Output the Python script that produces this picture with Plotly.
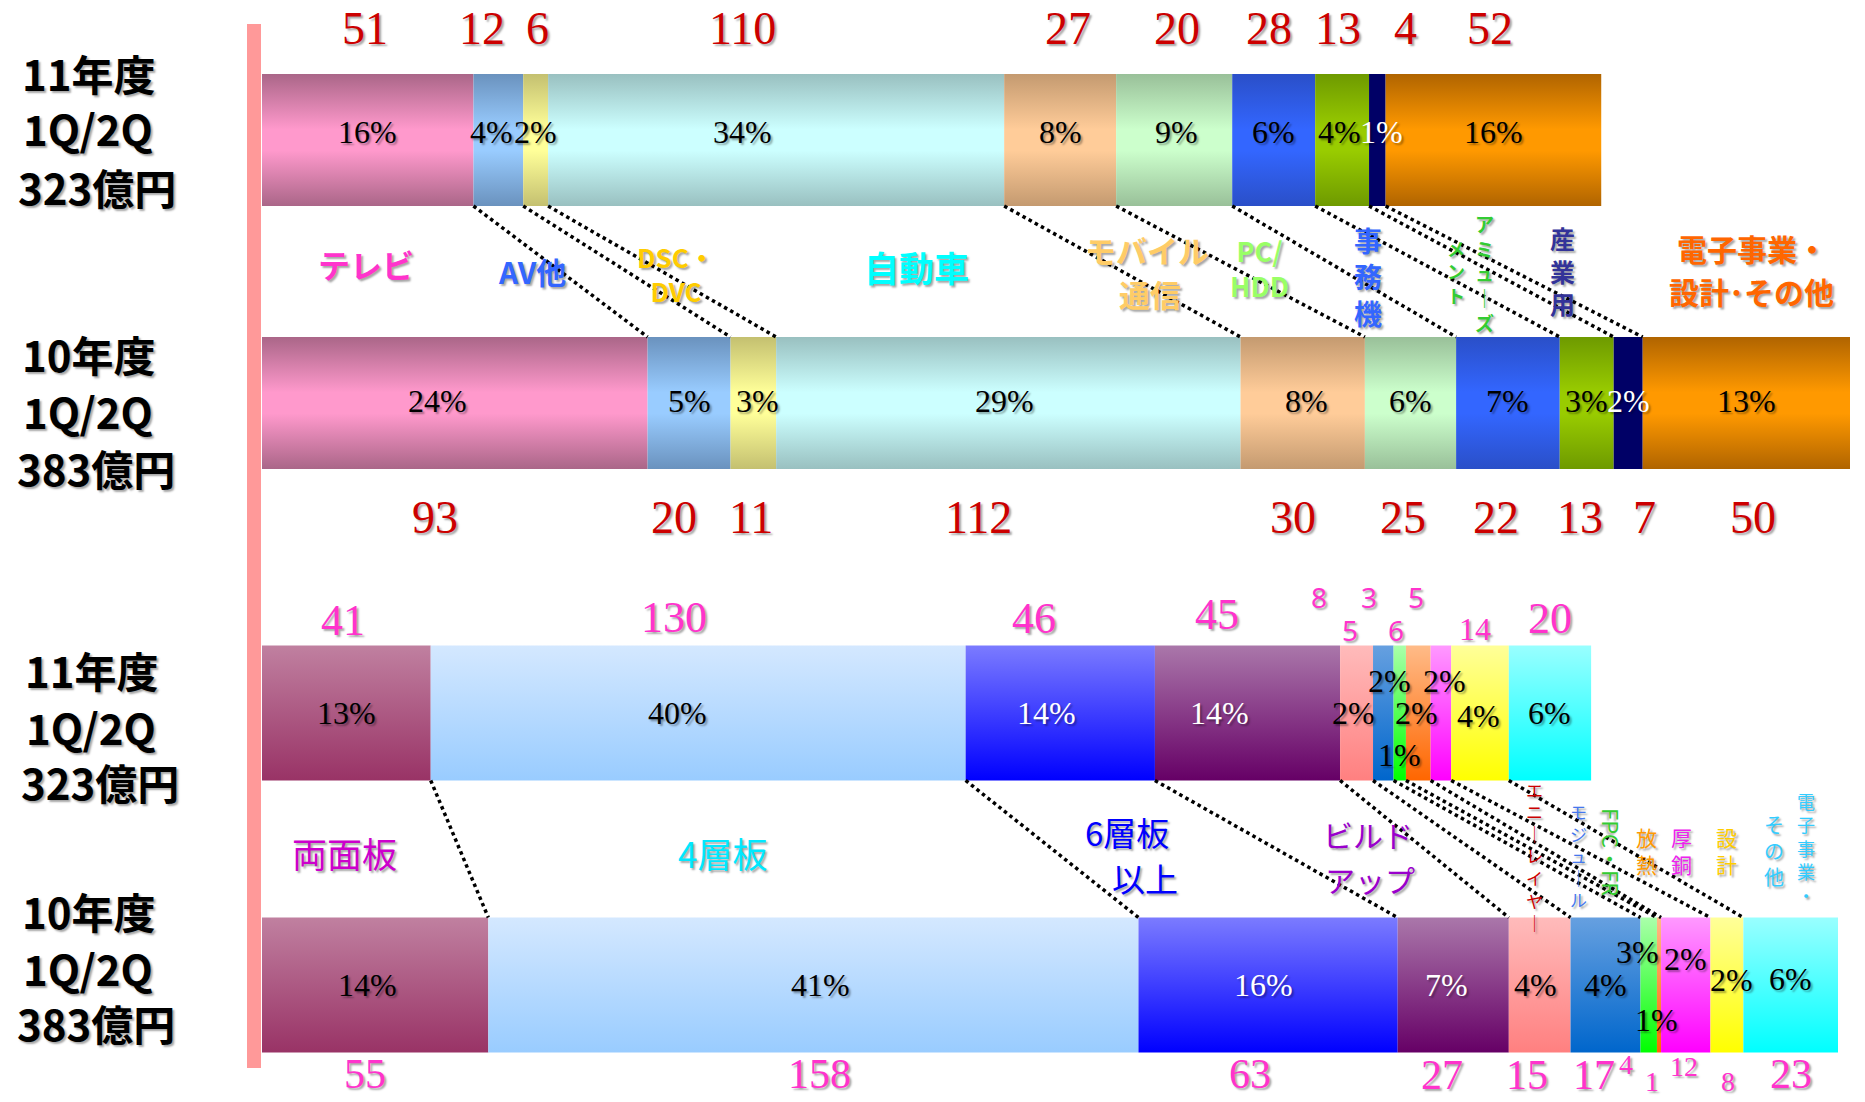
import plotly.graph_objects as go

W, H = 1865, 1102

# ---------------- data ----------------
top_categories = ["テレビ", "AV他", "DSC・DVC", "自動車", "モバイル通信", "PC/HDD",
                  "事務機", "アミューズメント", "産業用", "電子事業・設計・その他"]
top_fy11 = [51, 12, 6, 110, 27, 28, 20, 13, 4, 52]          # total 323
top_fy10 = [93, 20, 11, 112, 30, 22, 25, 13, 7, 50]         # total 383
top_fy11_labels = ["51", "12", "6", "110", "27", "20", "28", "13", "4", "52"]
top_fy10_labels = ["93", "20", "11", "112", "30", "25", "22", "13", "7", "50"]
top_fy11_pct = ["16%", "4%", "2%", "34%", "8%", "9%", "6%", "4%", "1%", "16%"]
top_fy10_pct = ["24%", "5%", "3%", "29%", "8%", "6%", "7%", "3%", "2%", "13%"]

bot_categories = ["両面板", "4層板", "6層板以上", "ビルドアップ", "エニーレイヤー", "モジュール",
                  "FPC・FR", "放熱", "厚銅", "設計", "電子事業・その他"]
bot_fy11 = [41, 130, 46, 45, 8, 5, 3, 6, 5, 14, 20]          # total 323
bot_fy10 = [55, 158, 63, 27, 15, 17, 4, 1, 12, 8, 23]        # total 383
bot_fy11_pct = ["13%", "40%", "14%", "14%", "2%", "2%", "1%", "2%", "2%", "4%", "6%"]
bot_fy10_pct = ["14%", "41%", "16%", "7%", "4%", "4%", "3%", "1%", "2%", "2%", "6%"]

row_fy11 = ["11年度", "1Q/2Q", "323億円"]
row_fy10 = ["10年度", "1Q/2Q", "383億円"]

# ---------------- styles ----------------
top_colors = [("#aa6688", "#ff99cc"), ("#6a92be", "#99ccff"), ("#c4c070", "#ffff99"),
              ("#99c0c0", "#ccffff"), ("#c49a70", "#ffcc99"), ("#99c099", "#ccffcc"),
              ("#2a4fc8", "#3366ff"), ("#6e9a00", "#99cc00"), ("#000066", "#000066"),
              ("#b06400", "#ff9900")]
bot_colors = [("#c080a0", "#993366"), ("#d4e8ff", "#99ccff"), ("#7b7bff", "#0000ff"),
              ("#aa77aa", "#660066"), ("#ffbbbb", "#ff8080"), ("#66a0e0", "#0066cc"),
              ("#aaffaa", "#00ff00"), ("#ffbb88", "#ff6600"), ("#ff99ff", "#ff00ff"),
              ("#ffff99", "#ffff00"), ("#99ffff", "#00ffff")]

SHADOW = "2px 2px 2px rgba(0,0,0,0.35)"
SERIF = "Liberation Serif, Times New Roman, serif"
GOTHIC = "Noto Sans CJK JP, Noto Sans, sans-serif"
SANS = "Noto Sans, DejaVu Sans, sans-serif"

H_TOP = 0.251
H_BOT = 0.248

fig = go.Figure()


def cum(vals):
    out = [0]
    for v in vals:
        out.append(out[-1] + v)
    return out


def fx(px):
    return px / W


def fy(py):
    return 1 - py / H


def add_bar(vals, row, half, xa, ya, colors, cyl):
    c = cum(vals)
    for i in range(len(vals)):
        x0, x1 = c[i], c[i + 1]
        if cyl:
            dark, light = colors[i]
            cs = [[0, dark], [0.42, light], [0.58, light], [1, dark]]
        else:
            top, bottom = colors[i]
            cs = [[0, bottom], [1, top]]
        fig.add_trace(go.Scatter(
            x=[x0, x1, x1, x0, x0],
            y=[row - half, row - half, row + half, row + half, row - half],
            mode="lines", line=dict(width=0), fill="toself",
            fillgradient=dict(type="vertical", colorscale=cs),
            xaxis=xa, yaxis=ya, hoverinfo="skip", showlegend=False))


def txt(text, x, y, xref, yref, size, color, family, bold=False,
        xshift=0, yshift=0, angle=0, align="center"):
    fig.add_annotation(text=text, x=x, y=y, xref=xref, yref=yref, showarrow=False,
                       xanchor="center", yanchor="middle", xshift=xshift, yshift=yshift,
                       textangle=angle, borderpad=0, align=align,
                       font=dict(size=size, color=color, family=family,
                                 weight="bold" if bold else "normal", shadow=SHADOW))


def vtext(text, xpx, ypx_mid, size, color, family, bold=False):
    # vertical (top-to-bottom) Japanese text, one character per line
    txt("<br>".join(text), fx(xpx), fy(ypx_mid), "paper", "paper", size, color, family, bold)


# ---------------- bars ----------------
add_bar(top_fy11, 1.0, H_TOP, "x", "y", top_colors, True)
add_bar(top_fy10, 0.0, H_TOP, "x", "y", top_colors, True)
add_bar(bot_fy11, 1.0, H_BOT, "x2", "y2", bot_colors, False)
add_bar(bot_fy10, 0.0, H_BOT, "x2", "y2", bot_colors, False)

# ---------------- dotted connectors ----------------
for vals11, vals10, half, xr, yr in [(top_fy11, top_fy10, H_TOP, "x", "y"),
                                     (bot_fy11, bot_fy10, H_BOT, "x2", "y2")]:
    c11, c10 = cum(vals11), cum(vals10)
    for i in range(1, len(vals11)):
        fig.add_shape(type="line", xref=xr, yref=yr, x0=c11[i], y0=1 - half,
                      x1=c10[i], y1=half, line=dict(color="black", width=3.5, dash="dot"))

# ---------------- percent labels ----------------
def pct_labels(vals, pcts, row, xr, yr, colors, xsh, ysh, size=32):
    c = cum(vals)
    for i, p in enumerate(pcts):
        txt(p, (c[i] + c[i + 1]) / 2, row, xr, yr, size, colors[i], SERIF,
            xshift=xsh[i], yshift=ysh[i])

pct_labels(top_fy11, top_fy11_pct, 1.0, "x", "y",
           ["black"] * 8 + ["white", "black"],
           [0, -7, 0, -34, 0, 2, 0, -3, 4, 0], [8] * 10)
pct_labels(top_fy10, top_fy10_pct, 0.0, "x", "y",
           ["black"] * 8 + ["white", "black"],
           [-17, 0, 4, -4, 4, 0, 0, 0, 0, 0], [2] * 10)
pct_labels(bot_fy11, bot_fy11_pct, 1.0, "x2", "y2",
           ["black", "black", "white", "white"] + ["black"] * 7,
           [0, -21, -14, -28, -3, 6, 0, -2, 4, -2, 0],
           [0, 0, 0, 0, 0, 32, -42, 0, 32, -3, 0])
pct_labels(bot_fy10, bot_fy10_pct, 0.0, "x2", "y2",
           ["black", "black", "white", "white"] + ["black"] * 7,
           [-8, 7, -5, -7, -4, 0, -11, -3, 0, 5, 0],
           [0, 0, 0, 0, 0, 0, 33, -35, 26, 5, 6])

# ---------------- value labels ----------------
def val_labels(vals, labels, xr, ypx, xsh, sizes, fams, color):
    c = cum(vals)
    for i, lab in enumerate(labels):
        txt(lab, (c[i] + c[i + 1]) / 2, fy(ypx[i]), xr, "paper", sizes[i], color, fams[i],
            xshift=xsh[i])

val_labels(top_fy11, top_fy11_labels, "x", [28] * 10,
           [-3, -16, 2, -34, 8, 3, -5, -4, 28, -3], [46] * 10, [SERIF] * 10, "#cc0000")
val_labels(top_fy10, top_fy10_labels, "x", [517] * 10,
           [-20, -15, -2, -30, -10, -8, -12, -7, 16, 7], [46] * 10, [SERIF] * 10, "#cc0000")
val_labels(bot_fy11, [str(v) for v in bot_fy11], "x2",
           [620, 617, 618, 614, 597, 630, 597, 630, 597, 629, 618],
           [-3, -24, -26, -31, -38, -33, -31, -22, -25, -5, 0],
           [44, 44, 44, 44, 28, 28, 28, 28, 28, 32, 44],
           [SERIF] * 4 + [SANS] * 5 + [SERIF] * 2, "#ff33cc")
val_labels(bot_fy10, [str(v) for v in bot_fy10], "x2",
           [1074, 1074, 1074, 1075, 1075, 1075, 1064, 1081, 1066, 1081, 1074],
           [-10, 6, -18, -11, -13, -12, -23, -7, -2, 1, 0],
           [42, 42, 42, 42, 42, 42, 28, 28, 28, 28, 42],
           [SERIF] * 11, "#ff33cc")

# ---------------- row labels ----------------
for lines, xs, ys in [(row_fy11, [89, 88, 97], [72, 128, 186]),
                      (row_fy10, [89, 88, 96], [353, 410, 467]),
                      (row_fy11, [92, 91, 100], [669, 726, 781]),
                      (row_fy10, [89, 88, 96], [910, 967, 1022])]:
    for t, xp, yp in zip(lines, xs, ys):
        txt(t, fx(xp), fy(yp), "paper", "paper", 42, "black", GOTHIC, bold=True)

# ---------------- category labels: top chart ----------------
txt(top_categories[0], fx(366), fy(264), "paper", "paper", 32, "#ff33cc", GOTHIC, True)
txt(top_categories[1], fx(532), fy(271), "paper", "paper", 30, "#3366ff", GOTHIC, True)
txt("DSC・<br>DVC", fx(676), fy(273), "paper", "paper", 26, "#ffcc00", GOTHIC, True)
txt(top_categories[3], fx(916), fy(266), "paper", "paper", 35, "#00ffff", GOTHIC, True)
txt("モバイル", fx(1147), fy(249), "paper", "paper", 31, "#ffcc66", GOTHIC, True)
txt("通信", fx(1150), fy(294), "paper", "paper", 31, "#ffcc66", GOTHIC, True)
txt("PC/<br>HDD", fx(1259), fy(268), "paper", "paper", 27, "#99ff66", GOTHIC, True)
vtext("事務機", 1368, 276, 28, "#3366ff", GOTHIC, True)
vtext("アミュ｜ズ", 1484, 273, 19, "#33cc33", GOTHIC, True)
vtext("メント", 1456, 271, 18, "#33cc33", GOTHIC, True)
vtext("産業用", 1562, 270, 25, "#333399", GOTHIC, True)
txt("電子事業・", fx(1752), fy(248), "paper", "paper", 30, "#ff6600", GOTHIC, True)
txt("設計･その他", fx(1751), fy(291), "paper", "paper", 30, "#ff6600", GOTHIC, True)

# ---------------- category labels: bottom chart ----------------
txt(bot_categories[0], fx(344), fy(852), "paper", "paper", 35, "#cc00cc", GOTHIC)
txt(bot_categories[1], fx(722), fy(852), "paper", "paper", 35, "#00e8ff", GOTHIC)
txt("6層板", fx(1127), fy(832), "paper", "paper", 33, "#0000ff", GOTHIC)
txt("以上", fx(1145), fy(878), "paper", "paper", 33, "#0000ff", GOTHIC)
txt("ビルド", fx(1368), fy(834), "paper", "paper", 30, "#9900cc", GOTHIC)
txt("アップ", fx(1370), fy(879), "paper", "paper", 30, "#9900cc", GOTHIC)
vtext("エニ｜レイヤ｜", 1534, 856, 17, "#cc0000", GOTHIC)
vtext("モジュ｜ル", 1578, 855, 17, "#4477ee", GOTHIC)
txt(bot_categories[6], fx(1612), fy(852), "paper", "paper", 22, "#33cc33", GOTHIC, angle=90)
vtext("放熱", 1646, 850, 21, "#ff9900", GOTHIC)
vtext("厚銅", 1681, 850, 21, "#ee22ee", GOTHIC)
vtext("設計", 1726, 850, 21, "#ffcc00", GOTHIC)
vtext("その他", 1774, 850, 20, "#33ccff", GOTHIC)
vtext("電子事業・", 1806, 848, 18, "#33ccff", GOTHIC)

# ---------------- left accent line ----------------
fig.add_shape(type="line", xref="paper", yref="paper", x0=fx(254), x1=fx(254),
              y0=fy(24), y1=fy(1068), line=dict(color="#ff9999", width=14))

# ---------------- layout ----------------
axis_off = dict(visible=False, showgrid=False, zeroline=False, fixedrange=True)
fig.update_layout(
    width=W, height=H, margin=dict(l=0, r=0, t=0, b=0),
    paper_bgcolor="white", plot_bgcolor="white", showlegend=False,
    xaxis=dict(domain=[fx(262), fx(1850)], range=[0, 383], anchor="y", **axis_off),
    yaxis=dict(domain=[fy(534.5), fy(8.5)], range=[-0.5, 1.5], anchor="x", **axis_off),
    xaxis2=dict(domain=[fx(262), fx(1838)], range=[0, 383], anchor="y2", **axis_off),
    yaxis2=dict(domain=[fy(1093.8), fy(604.2)], range=[-0.4, 1.4], anchor="x2", **axis_off),
)

fig.write_html("out.html", config={"displayModeBar": False},
               post_script="document.body.style.margin='0px';document.body.style.overflow='hidden';")
